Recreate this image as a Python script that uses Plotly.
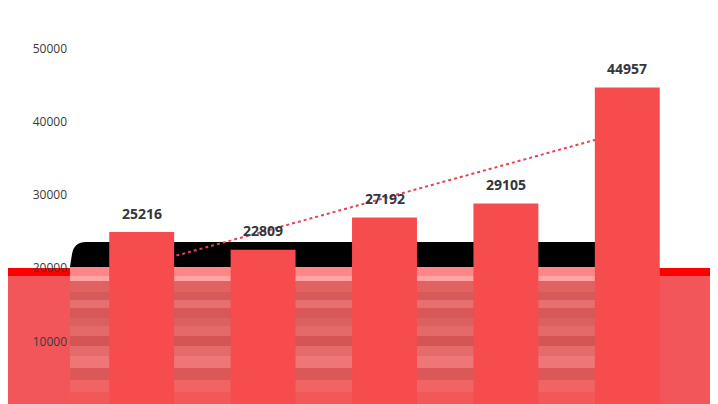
import plotly.graph_objects as go

# values (category labels are hidden below the view)
categories = ["P1", "P2", "P3", "P4", "P5"]
sales = [25216, 22809, 27192, 29105, 44957]
trend_x = ["P1", "P5"]
trend_y = [20700, 39010]
y_ticks = [10000, 20000, 30000, 40000, 50000]
y_range = [1741, 50341]

# the page adds an 8px body margin, so the figure is drawn 8px smaller
OFF = 8
W, H = 718 - OFF, 404 - OFF
M_L, M_R, M_T, M_B = 81 - OFF, 30, 48 - OFF, 0


def px(x):
    return (x - OFF - M_L) / (W - M_L - M_R)


def py(y):
    return (H - M_B - (y - OFF)) / (H - M_T - M_B)


fig = go.Figure()

# trend line on the base axes, bars on overlaid axes so they cover the line
fig.add_trace(go.Scatter(
    x=trend_x, y=trend_y, mode="lines",
    line=dict(color="#E8404F", width=2, dash="dot"),
    hoverinfo="skip", showlegend=False,
))

fig.add_trace(go.Bar(
    x=categories, y=sales, xaxis="x2", yaxis="y2",
    marker=dict(color="#F74C4D", line=dict(width=0)),
    showlegend=False,
))

for c, v in zip(categories, sales):
    fig.add_annotation(x=c, y=v, xref="x2", yref="y2", text="<b>%d</b>" % v,
                       showarrow=False, yshift=19,
                       font=dict(size=14, color="#33363D"))

# background band behind the lower part of the chart
shapes = []
shapes.append(dict(type="path", xref="paper", yref="paper", layer="below",
                   path="M %f %f L %f %f L %f %f L %f %f Q %f %f %f %f Z" % (
                       px(600), py(242), px(600), py(267), px(70), py(267),
                       px(72), py(254), px(74), py(242), px(86), py(242)),
                   fillcolor="#000000", line=dict(width=0)))
shapes.append(dict(type="rect", xref="paper", yref="paper", layer="below",
                   x0=px(0), x1=px(730), y0=py(276), y1=py(268),
                   fillcolor="#FF0000", line=dict(width=0)))
shapes.append(dict(type="rect", xref="paper", yref="paper", layer="below",
                   x0=px(0), x1=px(730), y0=py(410), y1=py(276),
                   fillcolor="#F2555A", line=dict(width=0)))
stripes = [(267, 276, "#FF8686"), (276, 281, "#FFA3A3"), (281, 292, "#E26262"),
           (292, 300, "#D65A5A"), (300, 308, "#E67070"), (308, 318, "#D85757"),
           (318, 326, "#DB6060"), (326, 336, "#E46A6A"), (336, 346, "#D55454"),
           (346, 356, "#E56B6B"), (356, 368, "#EE7676"), (368, 380, "#DA5858"),
           (380, 392, "#F06464"), (392, 410, "#F35858")]
for y0, y1, col in stripes:
    shapes.append(dict(type="rect", xref="paper", yref="paper", layer="below",
                       x0=px(70), x1=px(655), y0=py(y1), y1=py(y0),
                       fillcolor=col, line=dict(width=0)))

hidden_x = dict(type="category", categoryorder="array", categoryarray=categories,
                range=[-0.5, 4.5], showticklabels=False, showgrid=False,
                zeroline=False, showline=False, fixedrange=True)

fig.update_layout(
    width=W, height=H,
    margin=dict(l=M_L, r=M_R, t=M_T, b=M_B),
    paper_bgcolor="#FFFFFF", plot_bgcolor="rgba(0,0,0,0)",
    bargap=0.465,
    font=dict(family="Open Sans, sans-serif"),
    shapes=shapes,
    xaxis=hidden_x,
    xaxis2=dict(hidden_x, overlaying="x"),
    yaxis=dict(range=y_range, tickvals=y_ticks,
               ticktext=[str(t) for t in y_ticks],
               showgrid=False, zeroline=False, showline=False,
               tickfont=dict(size=12, color="#3A3A3A"), ticks="",
               ticklabelstandoff=13, ticklabelshift=-2),
    yaxis2=dict(range=y_range, overlaying="y", showticklabels=False,
                showgrid=False, zeroline=False, showline=False),
)

fig.write_html("out.html")
